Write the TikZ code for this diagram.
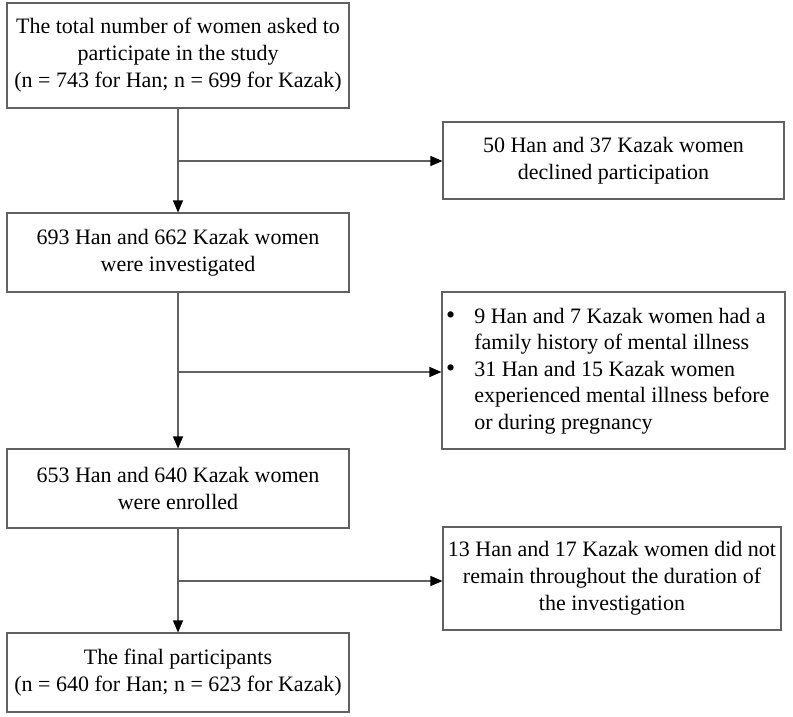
\documentclass[tikz,border=0pt]{standalone}
\usepackage{fontspec}
\setmainfont{Liberation Serif}
\usetikzlibrary{arrows.meta,calc}
\begin{document}
\begin{tikzpicture}[x=1pt,y=-1pt,
  box/.style={draw=black!62, line width=1.1pt, rectangle, inner sep=0pt, align=center,
    font=\fontsize{22}{27}\selectfont, text=black},
  conn/.style={draw=black!62, line width=1.1pt},
  arr/.style={conn, -{Triangle[length=12pt,width=10pt,fill=black,color=black]}}]
\useasboundingbox (0,0) rectangle (793,716);
\node[box, minimum width=342pt, minimum height=105pt] (b1) at (178,55.5)
  {The total number of women asked to\\participate in the study\\(n = 743 for Han; n = 699 for Kazak)};
\node[box, minimum width=341pt, minimum height=77pt] (b2) at (613.5,160.5)
  {50 Han and 37 Kazak women\\declined participation};
\node[box, minimum width=342pt, minimum height=79pt] (b3) at (178,252.5)
  {693 Han and 662 Kazak women\\were investigated};
\node[box, minimum width=343pt, minimum height=157pt] (b4) at (613.5,370.5) {};
\node[font=\fontsize{22}{26.5}\selectfont, anchor=west, inner sep=0pt] (b4t) at (446,371)
  {\begin{tabular}{@{}l@{\hspace{19pt}}l@{}}
   {\fontsize{26}{26.5}\selectfont\textbullet} & 9 Han and 7 Kazak women had a\\
               & family history of mental illness\\
   {\fontsize{26}{26.5}\selectfont\textbullet} & 31 Han and 15 Kazak women\\
               & experienced mental illness before\\
               & or during pregnancy
   \end{tabular}};
\node[box, minimum width=342pt, minimum height=79pt] (b5) at (178,488.5)
  {653 Han and 640 Kazak women\\were enrolled};
\node[box, minimum width=338pt, minimum height=103pt] (b6) at (612,578.5)
  {13 Han and 17 Kazak women did not\\remain throughout the duration of\\the investigation};
\node[box, minimum width=342pt, minimum height=79pt] (b7) at (178,672.5)
  {The final participants\\(n = 640 for Han; n = 623 for Kazak)};
\coordinate (j1) at (178,161);
\coordinate (j2) at (178,372);
\coordinate (j3) at (178,581);
\draw[arr] (b1.south) -- (b3.north);
\draw[arr] (j1) -- (j1 -| b2.west);
\draw[arr] (b3.south) -- (b5.north);
\draw[arr] (j2) -- (j2 -| b4.west);
\draw[arr] (b5.south) -- (b7.north);
\draw[arr] (j3) -- (j3 -| b6.west);
\end{tikzpicture}
\end{document}
